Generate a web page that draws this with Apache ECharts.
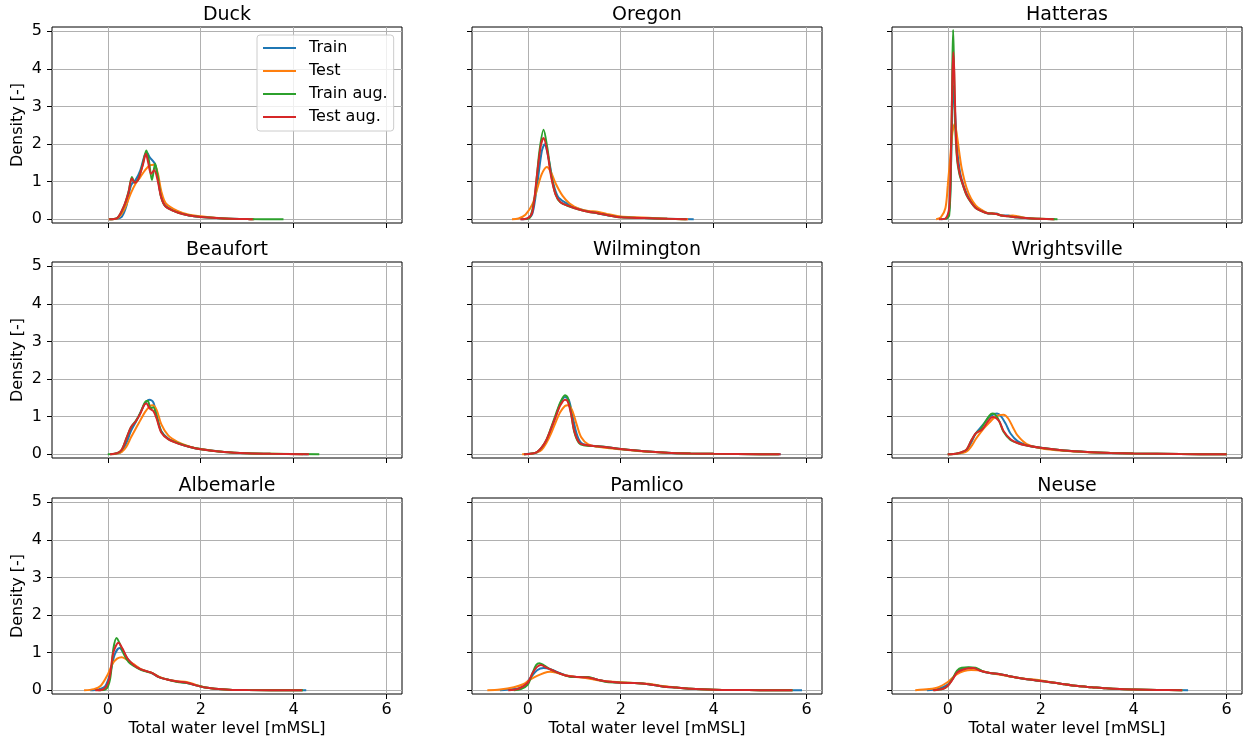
<!DOCTYPE html>
<html>
<head>
<meta charset="utf-8">
<script src="https://cdn.jsdelivr.net/npm/echarts@6/dist/echarts.min.js"></script>
<style>
  html, body { margin: 0; padding: 0; background: #fff; }
  #chart0 { width: 1245px; height: 742px; }
</style>
</head>
<body>
<div id="chart0"></div>
<script>
// station names (one panel each) and the four series
var stations = ['Duck', 'Oregon', 'Hatteras', 'Beaufort', 'Wilmington', 'Wrightsville', 'Albemarle', 'Pamlico', 'Neuse'];
var seriesNames = ['Train', 'Test', 'Train aug.', 'Test aug.'];
var xTicks = [0, 2, 4, 6];
var yTicks = [0, 1, 2, 3, 4, 5];

// density curves, [water level, density]
var duckTrain = [[0.03,0],[0.2,0.01],[0.3,0.06],[0.4,0.35],[0.5,0.9],[0.6,1.05],[0.7,1.3],[0.8,1.72],[0.85,1.76],[0.9,1.65],[1.0,1.5],[1.05,1.3],[1.15,0.6],[1.25,0.35],[1.5,0.19],[1.75,0.1],[2.0,0.06],[2.5,0.02],[3.0,0.005],[3.15,0]];
var duckTest = [[0.02,0],[0.2,0.02],[0.35,0.25],[0.5,0.7],[0.6,0.95],[0.7,1.12],[0.8,1.3],[0.9,1.43],[1.0,1.45],[1.08,1.2],[1.15,0.75],[1.25,0.42],[1.5,0.22],[1.75,0.12],[2.0,0.08],[2.3,0.04],[2.6,0.015],[3.0,0.003],[3.15,0]];
var duckTrainAug = [[0.03,0],[0.2,0.03],[0.35,0.35],[0.45,0.75],[0.52,1.12],[0.58,0.98],[0.65,1.05],[0.75,1.45],[0.83,1.83],[0.88,1.6],[0.95,1.04],[1.02,1.48],[1.08,1.1],[1.15,0.58],[1.25,0.33],[1.5,0.18],[1.75,0.1],[2.0,0.06],[2.5,0.02],[3.0,0.005],[3.78,0]];
var duckTestAug = [[0.03,0],[0.2,0.03],[0.34,0.33],[0.44,0.68],[0.52,1.08],[0.58,0.97],[0.65,1.05],[0.75,1.42],[0.82,1.74],[0.87,1.5],[0.93,1.21],[1.0,1.3],[1.07,1.05],[1.15,0.58],[1.25,0.33],[1.5,0.18],[1.75,0.1],[2.0,0.06],[2.5,0.02],[3.0,0.005],[3.12,0]];

var oregonTrain = [[-0.15,0],[0,0.02],[0.1,0.15],[0.2,0.9],[0.3,1.8],[0.36,1.99],[0.45,1.6],[0.55,0.95],[0.65,0.6],[0.8,0.45],[1.0,0.32],[1.2,0.24],[1.5,0.16],[1.75,0.1],[2.0,0.06],[2.5,0.035],[3.0,0.01],[3.57,0]];
var oregonTest = [[-0.34,0],[-0.2,0.02],[-0.05,0.12],[0.1,0.4],[0.2,0.8],[0.3,1.2],[0.41,1.39],[0.5,1.25],[0.6,0.95],[0.75,0.62],[0.9,0.42],[1.1,0.28],[1.3,0.22],[1.5,0.2],[1.7,0.14],[2.0,0.07],[2.3,0.05],[2.6,0.04],[3.0,0.015],[3.45,0]];
var oregonTrainAug = [[-0.05,0],[0.05,0.05],[0.15,0.6],[0.25,1.8],[0.34,2.38],[0.42,1.9],[0.5,1.2],[0.6,0.65],[0.7,0.45],[0.9,0.34],[1.1,0.26],[1.3,0.2],[1.5,0.16],[1.75,0.1],[2.0,0.05],[2.5,0.03],[3.0,0.01],[3.4,0]];
var oregonTestAug = [[-0.16,0],[0,0.03],[0.1,0.2],[0.2,1.2],[0.28,1.95],[0.34,2.16],[0.42,1.8],[0.5,1.15],[0.6,0.65],[0.7,0.46],[0.9,0.34],[1.1,0.26],[1.3,0.2],[1.5,0.16],[1.75,0.1],[2.0,0.05],[2.5,0.03],[3.0,0.01],[3.43,0]];

var hatterasTrain = [[-0.15,0],[0,0.05],[0.05,0.6],[0.09,2.5],[0.12,3.54],[0.15,3.0],[0.2,1.9],[0.25,1.35],[0.3,1.05],[0.4,0.7],[0.5,0.48],[0.6,0.32],[0.7,0.24],[0.85,0.16],[0.95,0.15],[1.05,0.15],[1.15,0.1],[1.3,0.1],[1.4,0.06],[1.6,0.04],[1.8,0.02],[2.0,0.01],[2.3,0]];
var hatterasTest = [[-0.25,0],[-0.15,0.05],[-0.05,0.3],[0.0,0.9],[0.05,1.6],[0.1,2.3],[0.15,2.53],[0.2,2.2],[0.25,1.75],[0.3,1.35],[0.4,0.85],[0.5,0.55],[0.6,0.37],[0.7,0.27],[0.85,0.17],[1.0,0.15],[1.1,0.12],[1.25,0.08],[1.4,0.1],[1.5,0.08],[1.7,0.03],[2.0,0.01],[2.3,0]];
var hatterasTrainAug = [[-0.05,0],[0.03,0.1],[0.07,1.5],[0.1,4.2],[0.115,5.03],[0.13,4.3],[0.16,2.5],[0.2,1.6],[0.25,1.2],[0.3,1.0],[0.4,0.65],[0.5,0.45],[0.6,0.3],[0.7,0.23],[0.85,0.16],[0.95,0.15],[1.05,0.14],[1.15,0.1],[1.3,0.08],[1.5,0.05],[1.8,0.02],[2.36,0]];
var hatterasTestAug = [[-0.19,0],[-0.05,0.02],[0.03,0.3],[0.07,1.8],[0.1,3.8],[0.12,4.44],[0.14,3.9],[0.17,2.4],[0.2,1.65],[0.25,1.25],[0.3,1.02],[0.4,0.66],[0.5,0.45],[0.6,0.3],[0.7,0.23],[0.85,0.16],[0.95,0.15],[1.05,0.14],[1.15,0.1],[1.3,0.08],[1.5,0.05],[1.8,0.02],[2.28,0]];

var beaufortTrain = [[0.05,0],[0.2,0.02],[0.3,0.08],[0.4,0.3],[0.5,0.62],[0.6,0.85],[0.7,1.1],[0.8,1.35],[0.9,1.45],[0.98,1.38],[1.05,1.05],[1.15,0.62],[1.3,0.42],[1.5,0.3],[1.75,0.2],[2.0,0.14],[2.5,0.06],[3.0,0.025],[3.5,0.01],[4.3,0]];
var beaufortTest = [[0.05,0],[0.2,0.02],[0.3,0.06],[0.4,0.2],[0.5,0.45],[0.6,0.68],[0.7,0.9],[0.8,1.12],[0.9,1.27],[0.96,1.3],[1.05,1.18],[1.15,0.8],[1.3,0.5],[1.5,0.33],[1.75,0.21],[2.0,0.14],[2.5,0.06],[3.0,0.025],[3.5,0.01],[4.2,0]];
var beaufortTrainAug = [[0.0,0],[0.2,0.03],[0.3,0.12],[0.4,0.42],[0.5,0.72],[0.6,0.88],[0.7,1.1],[0.8,1.38],[0.86,1.42],[0.92,1.22],[0.98,1.25],[1.05,1.0],[1.15,0.6],[1.3,0.4],[1.5,0.3],[1.75,0.2],[2.0,0.13],[2.5,0.06],[3.0,0.025],[3.5,0.01],[4.55,0]];
var beaufortTestAug = [[0.05,0],[0.2,0.03],[0.3,0.12],[0.4,0.42],[0.5,0.72],[0.6,0.87],[0.7,1.08],[0.78,1.3],[0.83,1.35],[0.9,1.22],[0.98,1.15],[1.05,0.95],[1.15,0.58],[1.3,0.4],[1.5,0.29],[1.75,0.2],[2.0,0.13],[2.5,0.06],[3.0,0.025],[3.5,0.01],[4.33,0]];

var wilmingtonTrain = [[-0.08,0],[0.1,0.02],[0.2,0.05],[0.3,0.15],[0.4,0.35],[0.5,0.65],[0.6,1.0],[0.7,1.35],[0.8,1.52],[0.88,1.45],[0.95,1.1],[1.05,0.55],[1.15,0.3],[1.3,0.24],[1.5,0.21],[1.75,0.18],[2.0,0.14],[2.5,0.08],[3.0,0.04],[3.5,0.02],[4.0,0.01],[5.0,0.003],[5.44,0]];
var wilmingtonTest = [[-0.12,0],[0.1,0.02],[0.2,0.05],[0.3,0.12],[0.4,0.3],[0.5,0.55],[0.6,0.85],[0.7,1.12],[0.8,1.28],[0.86,1.3],[0.95,1.18],[1.05,0.8],[1.15,0.45],[1.3,0.26],[1.5,0.2],[1.75,0.16],[2.0,0.13],[2.5,0.07],[3.0,0.04],[3.5,0.02],[4.0,0.01],[5.0,0.003],[5.4,0]];
var wilmingtonTrainAug = [[-0.08,0],[0.1,0.02],[0.2,0.06],[0.3,0.18],[0.4,0.38],[0.5,0.7],[0.6,1.05],[0.7,1.38],[0.8,1.57],[0.86,1.5],[0.93,1.1],[1.0,0.6],[1.1,0.3],[1.2,0.24],[1.5,0.21],[1.75,0.18],[2.0,0.14],[2.5,0.08],[3.0,0.04],[3.5,0.02],[4.0,0.01],[5.0,0.003],[5.4,0]];
var wilmingtonTestAug = [[-0.08,0],[0.1,0.02],[0.2,0.06],[0.3,0.18],[0.4,0.38],[0.5,0.68],[0.6,1.0],[0.7,1.3],[0.8,1.45],[0.86,1.4],[0.93,1.08],[1.0,0.62],[1.1,0.32],[1.2,0.25],[1.5,0.21],[1.75,0.18],[2.0,0.14],[2.5,0.08],[3.0,0.04],[3.5,0.02],[4.0,0.01],[5.0,0.003],[5.44,0]];

var wrightsvilleTrain = [[0,0],[0.2,0.01],[0.4,0.1],[0.5,0.3],[0.6,0.55],[0.7,0.7],[0.8,0.85],[0.9,1.0],[1.0,1.07],[1.06,1.08],[1.15,1.0],[1.25,0.8],[1.35,0.55],[1.5,0.35],[1.7,0.24],[2.0,0.17],[2.5,0.1],[3.0,0.06],[3.5,0.035],[4.0,0.02],[5.0,0.006],[6.0,0]];
var wrightsvilleTest = [[0,0],[0.2,0.01],[0.4,0.07],[0.5,0.2],[0.6,0.4],[0.7,0.57],[0.8,0.72],[0.9,0.85],[1.0,0.97],[1.1,1.04],[1.2,1.05],[1.3,0.95],[1.4,0.72],[1.5,0.5],[1.7,0.27],[2.0,0.16],[2.5,0.09],[3.0,0.055],[3.5,0.035],[4.0,0.02],[5.0,0.006],[6.0,0]];
var wrightsvilleTrainAug = [[0,0],[0.2,0.02],[0.4,0.12],[0.5,0.35],[0.6,0.55],[0.7,0.65],[0.8,0.85],[0.9,1.03],[0.96,1.08],[1.02,1.05],[1.1,0.9],[1.2,0.6],[1.35,0.38],[1.5,0.3],[1.7,0.23],[2.0,0.17],[2.5,0.1],[3.0,0.06],[3.5,0.035],[4.0,0.02],[5.0,0.006],[6.0,0]];
var wrightsvilleTestAug = [[0,0],[0.2,0.02],[0.4,0.12],[0.5,0.35],[0.6,0.55],[0.74,0.66],[0.85,0.85],[0.93,0.97],[0.98,0.99],[1.05,0.95],[1.12,0.85],[1.2,0.62],[1.35,0.4],[1.5,0.3],[1.7,0.23],[2.0,0.17],[2.5,0.1],[3.0,0.06],[3.5,0.035],[4.0,0.02],[5.0,0.006],[6.0,0]];

var albemarleTrain = [[-0.38,0],[-0.2,0.02],[-0.05,0.12],[0.05,0.45],[0.15,0.95],[0.25,1.12],[0.35,0.98],[0.45,0.8],[0.55,0.68],[0.7,0.56],[0.85,0.5],[0.95,0.45],[1.1,0.35],[1.3,0.28],[1.5,0.23],[1.7,0.19],[1.9,0.13],[2.1,0.07],[2.3,0.04],[2.6,0.015],[3.0,0.005],[4.27,0]];
var albemarleTest = [[-0.51,0],[-0.3,0.03],[-0.15,0.12],[0,0.42],[0.1,0.7],[0.2,0.84],[0.3,0.88],[0.4,0.82],[0.55,0.7],[0.7,0.57],[0.85,0.5],[0.95,0.46],[1.1,0.36],[1.3,0.28],[1.5,0.24],[1.7,0.22],[1.9,0.14],[2.1,0.07],[2.3,0.04],[2.6,0.015],[3.0,0.005],[4.2,0]];
var albemarleTrainAug = [[-0.2,0],[-0.05,0.02],[0.05,0.3],[0.12,1.1],[0.19,1.39],[0.27,1.2],[0.35,0.95],[0.45,0.75],[0.55,0.65],[0.7,0.55],[0.85,0.49],[0.95,0.46],[1.1,0.35],[1.3,0.28],[1.5,0.22],[1.7,0.19],[1.9,0.13],[2.1,0.07],[2.3,0.04],[2.6,0.015],[3.0,0.005],[4.2,0]];
var albemarleTestAug = [[-0.27,0],[-0.1,0.02],[0.03,0.3],[0.12,1.0],[0.23,1.26],[0.32,1.1],[0.42,0.85],[0.55,0.68],[0.7,0.56],[0.85,0.5],[0.95,0.46],[1.1,0.35],[1.3,0.28],[1.5,0.23],[1.7,0.2],[1.9,0.13],[2.1,0.07],[2.3,0.04],[2.6,0.015],[3.0,0.005],[4.18,0]];

var pamlicoTrain = [[-0.6,0],[-0.3,0.03],[-0.1,0.1],[0.05,0.32],[0.2,0.53],[0.34,0.59],[0.5,0.55],[0.7,0.45],[0.9,0.37],[1.1,0.35],[1.3,0.34],[1.5,0.28],[1.7,0.23],[2.0,0.2],[2.3,0.19],[2.6,0.16],[2.9,0.1],[3.2,0.07],[3.5,0.04],[4.0,0.015],[4.5,0.006],[5.0,0.003],[5.9,0]];
var pamlicoTest = [[-0.87,0],[-0.6,0.02],[-0.3,0.08],[-0.1,0.16],[0.05,0.28],[0.2,0.38],[0.35,0.46],[0.48,0.49],[0.6,0.47],[0.8,0.4],[1.0,0.36],[1.2,0.33],[1.4,0.29],[1.7,0.24],[2.0,0.21],[2.3,0.19],[2.6,0.17],[2.9,0.11],[3.2,0.07],[3.5,0.04],[4.0,0.016],[4.5,0.006],[5.0,0.003],[5.7,0]];
var pamlicoTrainAug = [[-0.3,0],[-0.15,0.03],[0,0.15],[0.1,0.45],[0.18,0.67],[0.25,0.72],[0.35,0.66],[0.5,0.55],[0.7,0.44],[0.9,0.36],[1.1,0.35],[1.3,0.35],[1.5,0.28],[1.7,0.22],[2.0,0.2],[2.3,0.19],[2.6,0.16],[2.9,0.1],[3.2,0.07],[3.5,0.04],[4.0,0.015],[4.5,0.006],[5.0,0.003],[5.7,0]];
var pamlicoTestAug = [[-0.42,0],[-0.2,0.04],[0,0.2],[0.1,0.45],[0.2,0.62],[0.28,0.67],[0.4,0.6],[0.55,0.52],[0.7,0.44],[0.9,0.37],[1.1,0.35],[1.3,0.34],[1.5,0.28],[1.7,0.23],[2.0,0.2],[2.3,0.19],[2.6,0.16],[2.9,0.1],[3.2,0.07],[3.5,0.04],[4.0,0.015],[4.5,0.006],[5.0,0.003],[5.69,0]];

var neuseTrain = [[-0.45,0],[-0.2,0.04],[0,0.15],[0.1,0.3],[0.2,0.48],[0.3,0.57],[0.45,0.6],[0.6,0.58],[0.75,0.5],[0.9,0.46],[1.1,0.43],[1.3,0.38],[1.5,0.33],[1.7,0.29],[1.9,0.26],[2.1,0.23],[2.3,0.2],[2.5,0.16],[2.8,0.11],[3.1,0.08],[3.4,0.05],[3.7,0.03],[4.0,0.02],[4.5,0.007],[5.17,0]];
var neuseTest = [[-0.7,0],[-0.4,0.03],[-0.2,0.08],[0,0.22],[0.1,0.33],[0.2,0.43],[0.35,0.51],[0.5,0.54],[0.65,0.53],[0.8,0.49],[1.0,0.44],[1.2,0.4],[1.4,0.35],[1.7,0.3],[1.9,0.28],[2.1,0.24],[2.3,0.2],[2.5,0.16],[2.8,0.11],[3.1,0.08],[3.4,0.05],[3.7,0.03],[4.0,0.02],[4.5,0.007],[5.05,0]];
var neuseTrainAug = [[-0.3,0],[-0.1,0.04],[0,0.12],[0.1,0.3],[0.2,0.52],[0.3,0.6],[0.45,0.61],[0.6,0.6],[0.75,0.5],[0.9,0.46],[1.1,0.43],[1.3,0.38],[1.5,0.33],[1.7,0.29],[1.9,0.26],[2.1,0.23],[2.3,0.2],[2.5,0.16],[2.8,0.11],[3.1,0.08],[3.4,0.05],[3.7,0.03],[4.0,0.02],[4.5,0.007],[5.05,0]];
var neuseTestAug = [[-0.32,0],[-0.1,0.04],[0,0.12],[0.1,0.28],[0.2,0.47],[0.35,0.56],[0.55,0.59],[0.7,0.52],[0.9,0.46],[1.1,0.43],[1.3,0.38],[1.5,0.33],[1.7,0.29],[1.9,0.26],[2.1,0.23],[2.3,0.2],[2.5,0.16],[2.8,0.11],[3.1,0.08],[3.4,0.05],[3.7,0.03],[4.0,0.02],[4.5,0.007],[5.04,0]];

var curves = [
  [duckTrain, duckTest, duckTrainAug, duckTestAug],
  [oregonTrain, oregonTest, oregonTrainAug, oregonTestAug],
  [hatterasTrain, hatterasTest, hatterasTrainAug, hatterasTestAug],
  [beaufortTrain, beaufortTest, beaufortTrainAug, beaufortTestAug],
  [wilmingtonTrain, wilmingtonTest, wilmingtonTrainAug, wilmingtonTestAug],
  [wrightsvilleTrain, wrightsvilleTest, wrightsvilleTrainAug, wrightsvilleTestAug],
  [albemarleTrain, albemarleTest, albemarleTrainAug, albemarleTestAug],
  [pamlicoTrain, pamlicoTest, pamlicoTrainAug, pamlicoTestAug],
  [neuseTrain, neuseTest, neuseTrainAug, neuseTestAug]
];

var colors = ['#1f77b4', '#ff7f0e', '#2ca02c', '#d62728'];
var font = 'DejaVu Sans';

var myChart = echarts.init(document.getElementById('chart0'));

var grids = [], xAxes = [], yAxes = [], titles = [], series = [];
var colLeft = [52, 472, 892];
var rowTop = [27, 262, 498];

stations.forEach(function (name, i) {
  var row = Math.floor(i / 3), col = i % 3;
  var left = colLeft[col], top = rowTop[row];
  grids.push({
    left: left, top: top, width: 350, height: 196,
    show: true, borderColor: '#000', borderWidth: 1,
    backgroundColor: 'transparent',
    outerBoundsMode: 'none'
  });
  titles.push({
    text: name,
    left: left + 175, top: top - 21,
    textAlign: 'center',
    padding: 0,
    textStyle: { fontFamily: font, fontSize: 19, fontWeight: 'normal', color: '#000' }
  });
  xAxes.push({
    type: 'value', gridIndex: i,
    min: -1.2, max: 6.33,
    axisLine: { show: false, onZero: false },
    axisTick: { show: true, inside: false, length: 5, customValues: xTicks, lineStyle: { color: '#000', width: 1 } },
    axisLabel: {
      show: row === 2, customValues: xTicks, margin: 8,
      fontFamily: font, fontSize: 16, color: '#000'
    },
    splitLine: { show: true, lineStyle: { color: '#b0b0b0', width: 1 } },
    name: row === 2 ? 'Total water level [mMSL]' : '',
    nameLocation: 'middle', nameGap: 27,
    nameTextStyle: { fontFamily: font, fontSize: 16, color: '#000' }
  });
  yAxes.push({
    type: 'value', gridIndex: i,
    min: -0.1, max: 5.11,
    axisLine: { show: false, onZero: false },
    axisTick: { show: true, inside: false, length: 5, customValues: yTicks, lineStyle: { color: '#000', width: 1 } },
    axisLabel: {
      show: col === 0, customValues: yTicks, margin: 10,
      fontFamily: font, fontSize: 16, color: '#000'
    },
    splitLine: { show: true, lineStyle: { color: '#b0b0b0', width: 1 } },
    name: col === 0 ? 'Density [-]' : '',
    nameLocation: 'middle', nameGap: 26,
    nameTextStyle: { fontFamily: font, fontSize: 16, color: '#000' }
  });
  curves[i].forEach(function (pts, k) {
    series.push({
      name: seriesNames[k],
      type: 'line',
      xAxisIndex: i, yAxisIndex: i,
      data: pts,
      showSymbol: false, symbol: 'none',
      smooth: 0.3,
      lineStyle: { color: colors[k], width: 2 },
      itemStyle: { color: colors[k] },
      z: 2 + k
    });
  });
});

var option = {
  animation: false,
  backgroundColor: '#fff',
  title: titles,
  grid: grids,
  xAxis: xAxes,
  yAxis: yAxes,
  legend: {
    data: seriesNames,
    orient: 'vertical',
    left: 257, top: 35,
    padding: [4, 6, 5, 6],
    itemGap: 5,
    itemWidth: 33, itemHeight: 2,
    icon: 'rect',
    backgroundColor: 'rgba(255,255,255,0.8)',
    borderColor: '#cccccc', borderWidth: 1, borderRadius: 3,
    textStyle: { fontFamily: font, fontSize: 16, color: '#000', padding: [0, 0, 0, 8], lineHeight: 18 }
  },
  series: series
};

myChart.setOption(option);
window.addEventListener('resize', function () { myChart.resize(); });
</script>
</body>
</html>
